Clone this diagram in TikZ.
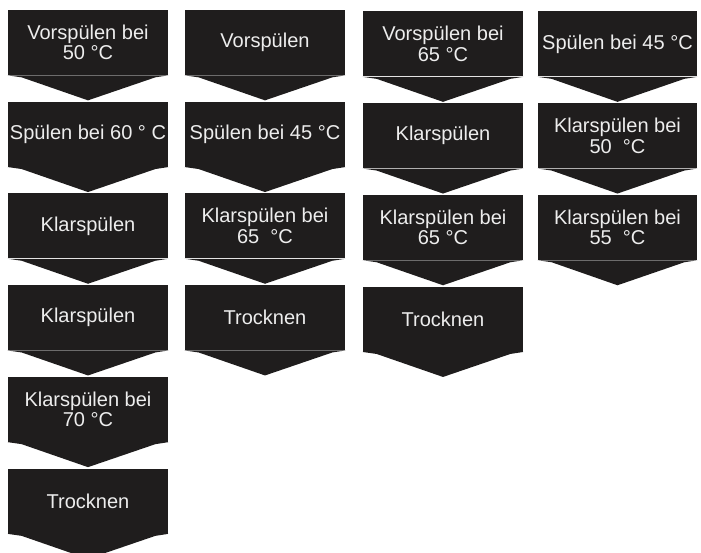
\documentclass[tikz,border=0pt]{standalone}
\usepackage{fontspec}
\setmainfont{Liberation Sans}
\usetikzlibrary{positioning}

\definecolor{kasten}{HTML}{1F1D1D}
\tikzset{
  schritt/.style={fill=kasten, text=white!93!black, minimum width=3.2cm, minimum height=1.3cm,
    inner sep=1pt, align=center, font=\fontsize{11.4}{11.6}\selectfont},
  node distance=0.52cm
}
% arrow head below a step box
\newcommand{\spitze}[1]{\fill[kasten] (#1.south west) -- (#1.south east)
  -- ([xshift=-0.26cm,yshift=-0.04cm]#1.south east) -- ([yshift=-0.5cm]#1.south)
  -- ([xshift=0.28cm,yshift=-0.04cm]#1.south west) -- cycle;}

\begin{document}
\begin{tikzpicture}
            \useasboundingbox (0,0) rectangle (14.02,-11.06);
            % Program 1
            \node[schritt] (a1) at (1.76,-0.85) {Vorspülen bei\\50 °C};
            \node[schritt, below=of a1] (a2) {Spülen bei 60 ° C};
            \node[schritt, below=of a2] (a3) {Klarspülen};
            \node[schritt, below=of a3] (a4) {Klarspülen};
            \node[schritt, below=of a4] (a5) {Klarspülen bei\\70 °C};
            \node[schritt, below=of a5] (a6) {Trocknen};
            % Program 2
            \node[schritt] (b1) at (5.30,-0.85) {Vorspülen};
            \node[schritt, below=of b1] (b2) {Spülen bei 45 °C};
            \node[schritt, below=of b2] (b3) {Klarspülen bei\\65~~°C};
            \node[schritt, below=of b3] (b4) {Trocknen};
            % Program 3
            \node[schritt] (c1) at (8.86,-0.88) {Vorspülen bei\\65 °C};
            \node[schritt, below=of c1] (c2) {Klarspülen};
            \node[schritt, below=of c2] (c3) {Klarspülen bei\\65 °C};
            \node[schritt, below=of c3] (c4) {Trocknen};
            % Program 4
            \node[schritt, minimum width=3.18cm] (d1) at (12.35,-0.88) {Spülen bei 45 °C};
            \node[schritt, minimum width=3.18cm, below=of d1] (d2) {Klarspülen bei\\50~~°C};
            \node[schritt, minimum width=3.18cm, below=of d2] (d3) {Klarspülen bei\\55~~°C};
            % Arrow heads
            \spitze{a1} \spitze{a2} \spitze{a3} \spitze{a4} \spitze{a5} \spitze{a6}
            \spitze{b1} \spitze{b2} \spitze{b3} \spitze{b4}
            \spitze{c1} \spitze{c2} \spitze{c3} \spitze{c4}
            \spitze{d1} \spitze{d2} \spitze{d3}
\end{tikzpicture}
\end{document}
